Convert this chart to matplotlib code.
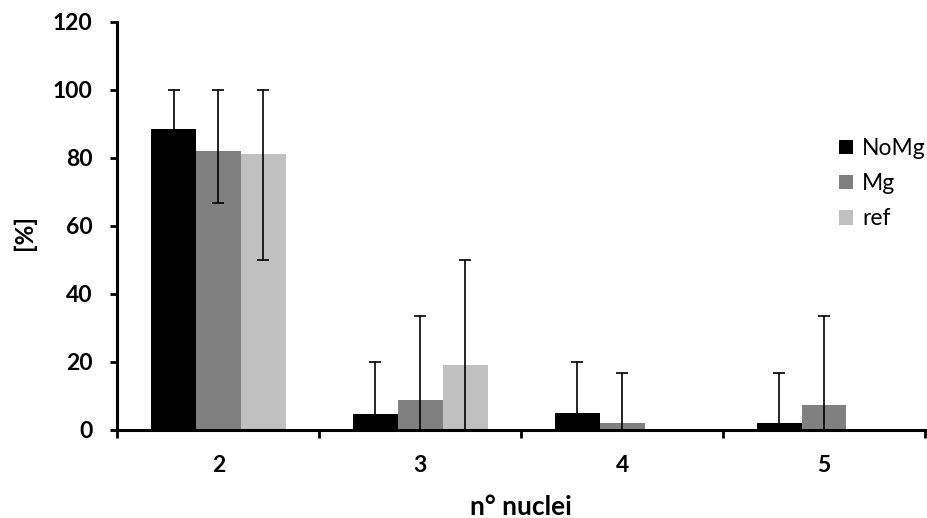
import numpy as np
import matplotlib
matplotlib.use("Agg")
import matplotlib.pyplot as plt
from matplotlib.patches import Patch

categories = ["2", "3", "4", "5"]
series = ["NoMg", "Mg", "ref"]
nomg = [88.3, 4.7, 4.8, 1.8]
mg = [82.0, 8.7, 1.8, 7.2]
ref = [81.1, 18.9, 0.0, 0.0]
nomg_hi = [100.0, 20.0, 20.0, 16.7]
nomg_lo = [76.7, 0.0, 0.0, 0.0]
mg_hi = [100.0, 33.3, 16.7, 33.3]
mg_lo = [66.7, 0.0, 0.0, 0.0]
ref_hi = [100.0, 50.0, 0.0, 0.0]
ref_lo = [50.0, 0.0, 0.0, 0.0]
colors = ["#000000", "#808080", "#c0c0c0"]

plt.rcParams['font.family'] = ['Lato', 'DejaVu Sans']

fig = plt.figure(figsize=(9.28, 5.18), dpi=100)
ax = fig.add_axes([117.5/928, 1-429.5/518, (925-117.5)/928, (429.5-21.5)/518])

x = np.arange(len(categories))
w = 0.222
vals = [nomg, mg, ref]
his = [nomg_hi, mg_hi, ref_hi]
los = [nomg_lo, mg_lo, ref_lo]
for j in range(3):
    pos = x + (j-1)*w
    v = np.array(vals[j]); hi = np.array(his[j]); lo = np.array(los[j])
    ax.bar(pos, v, width=w, color=colors[j], zorder=2)
    m = hi > v
    ax.errorbar(pos[m], v[m], yerr=[v[m]-lo[m], hi[m]-v[m]], fmt='none',
                ecolor='#000000', elinewidth=1.2, capsize=4.5, capthick=1.2, zorder=2.3)

ax.set_xlim(-0.5, 3.5)
ax.set_ylim(0, 120)
ax.set_yticks(np.arange(0, 121, 20))
ax.set_xticks(x)
ax.set_xticklabels(categories, fontweight='bold', fontsize=16.5)
ax.set_xticks(np.arange(-0.5, 3.6, 1), minor=True)
ax.tick_params(axis='x', which='major', length=0, pad=18)
ax.tick_params(axis='x', which='minor', length=6, width=2, direction='out')
ax.tick_params(axis='y', length=5, width=2, direction='out', pad=13, labelsize=16.5)
for lab in ax.get_yticklabels():
    lab.set_fontweight('bold')
for s in ['top', 'right']:
    ax.spines[s].set_visible(False)
for s in ['left', 'bottom']:
    ax.spines[s].set_linewidth(2.2)
    ax.spines[s].set_zorder(2.5)

fig.text(521/928, 1-515/518, "n° nuclei", fontsize=19, fontweight='bold', ha='center', va='baseline')
fig.text(24/928, 1-232/518, "[%]", fontsize=17.5, fontweight='bold', ha='center', va='center', rotation=90)

handles = [Patch(facecolor=c, edgecolor='none', label=s) for c, s in zip(colors, series)]
leg = fig.legend(handles=handles, loc='upper left', bbox_to_anchor=(839/928, 1-138/518),
                 frameon=False, fontsize=16.5, handlelength=0.6, handleheight=0.6,
                 handletextpad=0.4, labelspacing=0.62, borderpad=0, borderaxespad=0)

fig.savefig("out.png", dpi=100)
